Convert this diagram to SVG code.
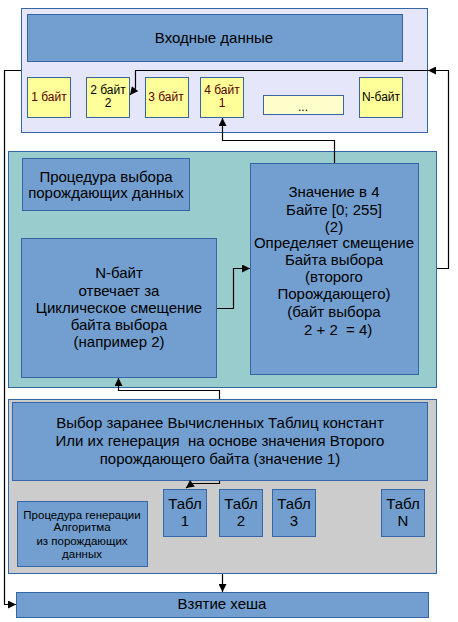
<svg xmlns="http://www.w3.org/2000/svg" width="458" height="622" viewBox="0 0 458 622">
<defs>
<marker id="arr" viewBox="0 0 10 10" refX="10" refY="5" markerWidth="9" markerHeight="8" markerUnits="userSpaceOnUse" orient="auto">
<path d="M0,0 L10,5 L0,10 z" fill="#000"/>
</marker>
</defs>
<style>
text{font-family:"Liberation Sans",Arial,sans-serif;fill:#000;text-anchor:middle}
.t15{font-size:15px}
.t12{font-size:12px}
.t11{font-size:11.5px}
.blue{fill:#729fcf;stroke:#3465a4;stroke-width:1}
.yel{fill:#ffff99;stroke:#3465a4;stroke-width:1}
.red{fill:#5a0000}
.con{fill:none;stroke:#000;stroke-width:1.2;marker-end:url(#arr)}
.conn{fill:none;stroke:#000;stroke-width:1.2}
</style>
<rect width="458" height="622" fill="#fff"/>

<g id="input-area">
<rect x="21.5" y="8.5" width="406" height="124" fill="#e6e6fa" stroke="#3465a4"/>
</g>
<g id="header">
<rect class="blue" x="27.5" y="14.5" width="375" height="47"/>
<text class="t15" x="214" y="43">Входные данные</text>
</g>
<g id="byte1">
<rect class="yel" x="27.5" y="77.5" width="43" height="40"/>
<text class="t12 red" x="49" y="101">1 байт</text>
</g>
<g id="byte2">
<rect class="yel" x="86.5" y="77.5" width="43" height="40"/>
<text class="t12" x="108" y="94">2 байт</text>
<text class="t12" x="108" y="107">2</text>
</g>
<g id="byte3">
<rect class="yel" x="145.5" y="77.5" width="43" height="40"/>
<text class="t12 red" x="166" y="101">3 байт</text>
</g>
<g id="byte4">
<rect class="yel" x="200.5" y="77.5" width="43" height="40"/>
<text class="t12 red" x="222" y="94">4 байт</text>
<text class="t12 red" x="222" y="107">1</text>
</g>
<g id="dots">
<rect x="263.5" y="95.5" width="80" height="19" fill="#ffffcc" stroke="#3465a4"/>
<text class="t12" x="303" y="111">...</text>
</g>
<g id="byteN">
<rect class="yel" x="359.5" y="77.5" width="43" height="40"/>
<text class="t12" x="381" y="101">N-байт</text>
</g>

<g id="select-area">
<rect x="8.5" y="151.5" width="428" height="236" fill="#99cccc" stroke="#3465a4"/>
</g>
<g id="proc-select">
<rect class="blue" x="22.5" y="158.5" width="167" height="52"/>
<text class="t15" x="106" y="182">Процедура выбора</text>
<text class="t15" x="106" y="198">порождающих данных</text>
</g>
<g id="nbyte">
<rect class="blue" x="21.5" y="238.5" width="195" height="139"/>
<text class="t15" x="119" y="278">N-байт</text>
<text class="t15" x="119" y="296">отвечает за</text>
<text class="t15" x="119" y="313">Циклическое смещение</text>
<text class="t15" x="119" y="330">байта выбора</text>
<text class="t15" x="119" y="347">(например 2)</text>
</g>
<g id="value4">
<rect class="blue" x="250.5" y="163.5" width="168" height="211"/>
<text class="t15" x="334" y="197">Значение в 4</text>
<text class="t15" x="334" y="215">Байте [0; 255]</text>
<text class="t15" x="334" y="232">(2)</text>
<text class="t15" x="334" y="248">Определяет смещение</text>
<text class="t15" x="334" y="265">Байта выбора</text>
<text class="t15" x="334" y="282">(второго</text>
<text class="t15" x="334" y="299">Порождающего)</text>
<text class="t15" x="334" y="317">(байт выбора</text>
<text class="t15" x="334" y="335" xml:space="preserve">  2 + 2  = 4)</text>
</g>

<g id="table-area">
<rect x="8.5" y="399.5" width="428" height="174" fill="#cccccc" stroke="#3465a4"/>
</g>
<g id="choose-tables">
<rect class="blue" x="12.5" y="402.5" width="415" height="78"/>
<text class="t15" x="220" y="428">Выбор заранее Вычисленных Таблиц констант</text>
<text class="t15" x="220" y="446" xml:space="preserve">Или их генерация  на основе значения Второго</text>
<text class="t15" x="220" y="464">порождающего байта (значение 1)</text>
</g>
<g id="tabl1">
<rect class="blue" x="163.5" y="489.5" width="43" height="47"/>
<text class="t15" x="185" y="509">Табл</text>
<text class="t15" x="185" y="526">1</text>
</g>
<g id="tabl2">
<rect class="blue" x="219.5" y="489.5" width="43" height="47"/>
<text class="t15" x="241" y="509">Табл</text>
<text class="t15" x="241" y="526">2</text>
</g>
<g id="tabl3">
<rect class="blue" x="272.5" y="489.5" width="43" height="47"/>
<text class="t15" x="294" y="509">Табл</text>
<text class="t15" x="294" y="526">3</text>
</g>
<g id="tablN">
<rect class="blue" x="381.5" y="489.5" width="43" height="47"/>
<text class="t15" x="403" y="509">Табл</text>
<text class="t15" x="403" y="526">N</text>
</g>
<g id="proc-gen">
<rect class="blue" x="17.5" y="501.5" width="130" height="65"/>
<text class="t11" x="82" y="519">Процедура генерации</text>
<text class="t11" x="82" y="531">Алгоритма</text>
<text class="t11" x="82" y="545">из порождающих</text>
<text class="t11" x="82" y="558">данных</text>
</g>
<g id="hash">
<rect class="blue" x="16.5" y="592.5" width="412" height="25"/>
<text class="t15" x="222" y="609">Взятие хеша</text>
</g>

<g id="connectors">
<path class="con" d="M21,70.5 H4.5 V604.5 H16"/>
<path class="con" d="M437,268.5 H448.5 V70.5 H428"/>
<path class="con" d="M428,70.5 H135.5 V88 L130,95"/>
<path class="con" d="M334.5,163 V140.5 H222.5 V118"/>
<path class="con" d="M217,308.5 H233.5 V268.5 H250"/>
<path class="con" d="M219.5,399 V390.5 H118.5 V378"/>
<path class="con" d="M219.5,481 V483.5 H192 L186,488"/>
<path class="con" d="M222.5,574 V592"/>
</g>
</svg>
